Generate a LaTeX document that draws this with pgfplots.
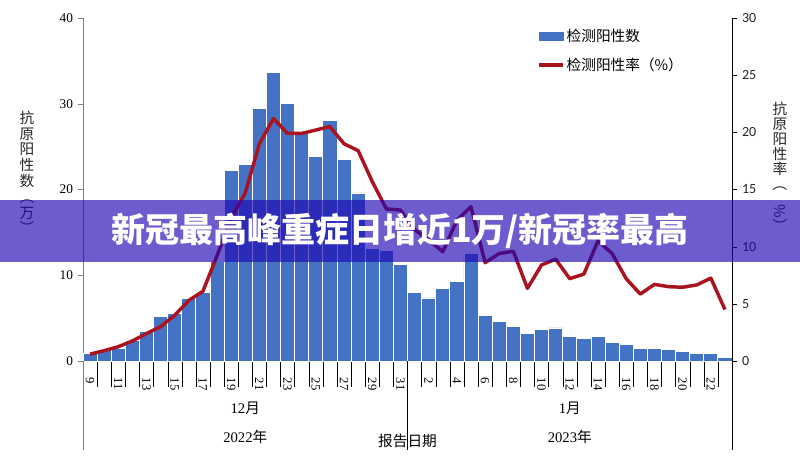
\documentclass[border=0pt]{standalone}
\usepackage{pgfplots}
\pgfplotsset{compat=1.18}
\usepackage{pgfplotstable}
\usepackage{graphicx}
\usepackage{fontspec}
\setmainfont{Liberation Serif}
\newfontfamily\cjk{Noto Sans CJK SC}
\newfontfamily\carlito{Carlito}
\definecolor{barblue}{RGB}{68,114,196}
\definecolor{linered}{RGB}{170,20,30}
\definecolor{bannerc}{RGB}{30,5,180}

\pgfplotstableread{
x bar rate
0 0.9 0.6
1 1.3 0.9
2 1.5 1.25
3 2.4 1.75
4 3.4 2.4
5 5.2 3.0
6 5.5 4.0
7 7.3 5.3
8 8.0 6.1
9 11.6 9.2
10 22.2 12.5
11 22.9 14.7
12 29.5 19.0
13 33.6 21.2
14 30.0 19.9
15 26.5 19.9
16 23.9 20.2
17 28.1 20.5
18 23.5 19.0
19 19.6 18.4
20 13.1 15.7
21 12.9 13.3
22 11.3 13.2
23 8.0 11.5
24 7.35 10.6
25 8.5 9.55
26 9.3 12.3
27 12.6 13.5
28 5.3 8.6
29 4.6 9.4
30 4.0 9.6
31 3.2 6.35
32 3.65 8.4
33 3.85 8.9
34 2.85 7.2
35 2.65 7.6
36 2.9 10.5
37 2.2 9.4
38 1.9 7.2
39 1.45 5.85
40 1.45 6.7
41 1.35 6.5
42 1.1 6.45
43 0.9 6.65
44 0.9 7.25
45 0.45 4.5
}\datatable

\begin{document}
\begin{tikzpicture}
\path[use as bounding box] (0,0) rectangle (600pt,347.25pt);
\begin{axis}[
  at={(62.25pt,76.5pt)}, anchor=south west,
  scale only axis, width=486.75pt, height=257.25pt,
  xmin=-0.5, xmax=45.5, ymin=0, ymax=40,
  axis x line*=bottom, axis y line*=left,
  y axis line style={draw=gray},
  x axis line style={draw=black},
  clip=false,
  /pgf/number format/assume math mode=true,
  ytick={0,10,20,30,40},
  tick align=outside,
  major tick length=4pt,
  ytick style={draw=gray},
  yticklabel style={font=\fontsize{10}{12}\selectfont},
  xtick={0,2,...,44},
  xticklabels={9,11,13,15,17,19,21,23,25,27,29,31,2,4,6,8,10,12,14,16,18,20,22},
  major x tick style={draw=none},
  minor xtick={-0.5,0.5,...,45.5},
  minor tick length=19.5pt,
  minor x tick style={draw=black},
  xticklabel style={font=\fontsize{9.5}{11}\selectfont, yshift=-5pt, rotate=-90, anchor=west},
]
\addplot[ybar, bar width=10.58pt, fill=barblue, draw=white, line width=0.6pt] table[x=x,y=bar]{\datatable};
\draw[gray] (axis cs:-0.5,0) -- ++(0pt,-66.75pt);
\draw[black] (axis cs:22.5,0) -- ++(0pt,-66.75pt);
\draw[black] (axis cs:45.5,0) -- ++(0pt,-66.75pt);
\node[font=\fontsize{11}{13}\selectfont] at (axis cs:11,0) [yshift=-35.25pt] {12{\cjk 月}};
\node[font=\fontsize{11}{13}\selectfont] at (axis cs:11,0) [yshift=-57pt] {2022{\cjk 年}};
\node[font=\fontsize{11}{13}\selectfont] at (axis cs:34,0) [yshift=-35.25pt] {1{\cjk 月}};
\node[font=\fontsize{11}{13}\selectfont] at (axis cs:34,0) [yshift=-57pt] {2023{\cjk 年}};
\node[font=\cjk\fontsize{11}{13}\selectfont] at (axis cs:22.5,0) [yshift=-60pt] {报告日期};
\end{axis}
\begin{axis}[
  at={(62.25pt,76.5pt)}, anchor=south west,
  scale only axis, width=486.75pt, height=257.25pt,
  xmin=-0.5, xmax=45.5, ymin=0, ymax=30,
  axis x line=none, axis y line*=right,
  y axis line style={draw=black},
  /pgf/number format/assume math mode=true,
  ytick={0,5,...,30},
  tick align=outside,
  major tick length=4pt,
  ytick style={draw=black},
  yticklabel style={font=\carlito\fontsize{10.5}{12}\selectfont, text=black!85},
  legend style={at={(0.6995,0.975)}, anchor=north west, draw=none, fill=none,
    inner sep=0pt, row sep=8pt, font=\cjk\fontsize{11}{13}\selectfont,
    nodes={inner sep=1.5pt}},
  legend cell align=left,
]
\addlegendimage{legend image code/.code={\fill[barblue] (0pt,-3pt) rectangle (18pt,3pt);}}
\addlegendentry{检测阳性数}
\addplot[linered, line width=2.6pt, line join=round, mark=none,
  legend image code/.code={\draw[linered,line width=2.6pt] (0pt,0pt) -- (18pt,0pt);}]
  table[x=x,y=rate]{\datatable};
\addlegendentry{检测阳性率（\%）}
\end{axis}
\node[align=center, font=\cjk\fontsize{11}{11.85}\selectfont, text=black!85] at (20.25pt,217.9pt) {抗\\原\\阳\\性\\数\\︵\\万\\︶};
\node[align=center, font=\cjk\fontsize{11}{11.2}\selectfont, text=black!85] at (585pt,222pt) {抗\\原\\阳\\性\\率\\︵\\\rotatebox{-90}{\%}\\︶};
\fill[bannerc, fill opacity=0.65] (0pt,150.75pt) rectangle (600pt,197.25pt);
\node[text=white, font=\cjk\bfseries\fontsize{25.5}{30}\selectfont] at (300pt,174pt) {新冠最高峰重症日增近1万/新冠率最高};
\end{tikzpicture}
\end{document}
